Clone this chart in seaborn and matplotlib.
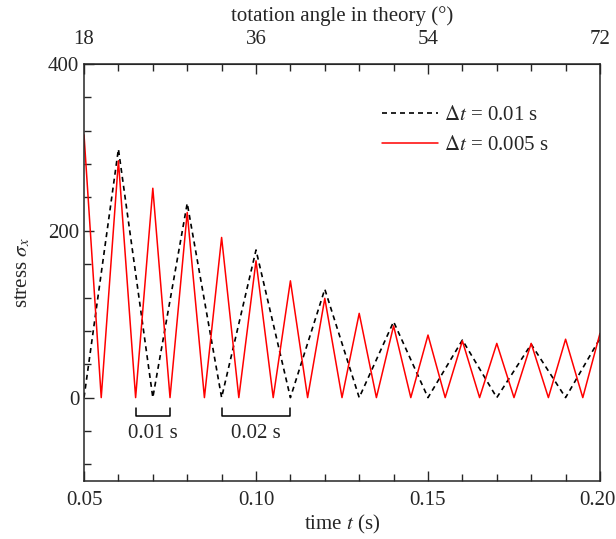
# Stress oscillation for two time steps
import matplotlib
matplotlib.use('Agg')
import matplotlib.pyplot as plt
import matplotlib.transforms as mtransforms
from matplotlib.ticker import MultipleLocator, FixedLocator
import pandas as pd
import seaborn as sns

# data
t_coarse = [0.05, 0.06, 0.07, 0.08, 0.09, 0.10, 0.11, 0.12,
            0.13, 0.14, 0.15, 0.16, 0.17, 0.18, 0.19, 0.20]
stress_coarse = [0, 298, 0, 233, 0, 177, 0, 130, 0, 91, 0, 69, 0, 64, 0, 71]

t_fine = [0.05, 0.055, 0.06, 0.065, 0.07, 0.075, 0.08, 0.085, 0.09, 0.095,
          0.10, 0.105, 0.11, 0.115, 0.12, 0.125, 0.13, 0.135, 0.14, 0.145,
          0.15, 0.155, 0.16, 0.165, 0.17, 0.175, 0.18, 0.185, 0.19, 0.195, 0.20]
stress_fine = [315, 0, 284, 0, 251, 0, 222, 0, 192, 0, 164, 0, 140, 0, 119, 0,
               101, 0, 86, 0, 75, 0, 68, 0, 65, 0, 65, 0, 70, 0, 77]

labels = [r'$\Delta t$ = 0.01 s', r'$\Delta t$ = 0.005 s']
x_ticks = [0.05, 0.10, 0.15, 0.20]
x_ticklabels = ['0.05', '0.10', '0.15', '0.20']
top_ticks = [18, 36, 54, 72]

# period brackets: (start, end, text)
brackets = [(0.065, 0.075, '0.01 s'), (0.09, 0.11, '0.02 s')]

df_coarse = pd.DataFrame({'t': t_coarse, 'stress': stress_coarse})
df_fine = pd.DataFrame({'t': t_fine, 'stress': stress_fine})

sns.set_style('ticks')
plt.rcParams['font.family'] = ['Liberation Serif', 'DejaVu Serif']
plt.rcParams['mathtext.fontset'] = 'stix'
plt.rcParams['font.size'] = 15
plt.rcParams['xtick.direction'] = 'in'
plt.rcParams['ytick.direction'] = 'in'

fig = plt.figure(figsize=(6.16, 5.39), dpi=100)
ax = fig.add_axes([0.1364, 0.1076, 0.8376, 0.7737])

sns.lineplot(data=df_coarse, x='t', y='stress', ax=ax, color='black',
             lw=1.2, linestyle=(0, (3, 2.4)), label=labels[0])
sns.lineplot(data=df_fine, x='t', y='stress', ax=ax, color='#ff0000',
             lw=1.1, label=labels[1])

ax.set_xlim(0.05, 0.20)
ax.set_ylim(-100, 400)
ax.set_xticks(x_ticks, x_ticklabels)
ax.xaxis.set_minor_locator(MultipleLocator(0.01))
ax.yaxis.set_major_locator(FixedLocator([0, 200, 400]))
ax.yaxis.set_minor_locator(MultipleLocator(40))
ax.tick_params(which='major', length=7, width=1)
ax.tick_params(which='minor', length=5, width=1)
ax.tick_params(axis='x', pad=7)
for s in ax.spines.values():
    s.set_linewidth(1.1)

# nudge the last label so it stays inside the figure
last = ax.get_xticklabels()[-1]
last.set_transform(last.get_transform() +
                   mtransforms.ScaledTranslation(-3 / 100, 0, fig.dpi_scale_trans))

ax.set_xlabel(r'time $t$ (s)', labelpad=2)
ax.set_ylabel(r'stress $\sigma_x$', labelpad=11)

top = ax.secondary_xaxis('top', functions=(lambda t: t * 360, lambda a: a / 360))
top.xaxis.set_major_locator(FixedLocator(top_ticks))
top.xaxis.set_minor_locator(MultipleLocator(3.6))
top.tick_params(which='major', length=7, width=1, direction='in', pad=11)
top.tick_params(which='minor', length=5, width=1, direction='in')
top.set_xlabel('totation angle in theory (°)', labelpad=6)

for x0, x1, txt in brackets:
    ax.plot([x0, x0, x1, x1], [-12, -22, -22, -12], color='black', lw=1.1)
    ax.text((x0 + x1) / 2, -32, txt, ha='center', va='top')

ax.legend(loc='upper left', bbox_to_anchor=(0.578, 0.90), frameon=False,
          borderpad=0, borderaxespad=0, handlelength=2.7, handletextpad=0.25,
          labelspacing=0.5)

fig.savefig('out.png', dpi=100)
